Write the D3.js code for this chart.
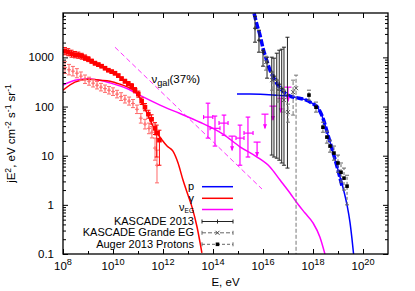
<!DOCTYPE html>
<html><head><meta charset="utf-8">
<script src="https://cdn.jsdelivr.net/npm/d3@7"></script>
<style>body{margin:0;background:#fff} text{font-family:"Liberation Sans",Arial,sans-serif;fill:#000}</style>
</head><body><svg id="c" width="415" height="291"></svg>
<script>
// ---------- data ----------
const xTickExp = [8,10,12,14,16,18,20];
const yTickLabels = ["0.1","1","10","100","1000"];
const yTickVals = [0.1,1,10,100,1000];

// red squares (total EGB)
const egbE  = [1.2e8,1.62e8,2.2e8,3.0e8,4.1e8,5.6e8,7.6e8,1.03e9,1.4e9,1.9e9,2.6e9,3.5e9,4.8e9,6.5e9,8.9e9,1.2e10,1.63e10,2.2e10,3.0e10,4.1e10,5.6e10,7.6e10,1.03e11,1.4e11,1.9e11,2.6e11,3.5e11,4.8e11,5.6e11,7.2e11];
const egbV  = [1337,1276,1189,1135,1109,1058,986,919,837,762,711,663,603,549,512,477,425,369,328,292,260,215,179,129,97,70,55,36,28.8,20.7];
const egbLo = [1130,1080,1010,980,960,920,870,820,760,700,655,615,560,510,475,440,392,340,300,265,232,190,155,110,82,58,44,27,9.4,6.4];
const egbHi = [1580,1500,1400,1320,1280,1210,1120,1030,920,830,770,715,650,590,552,515,460,400,358,322,292,243,206,150,115,84,68,47,41.9,33];

// light red points (IGRB)
const igrbE  = [1.2e8,1.74e8,2.5e8,3.6e8,5.2e8,7.6e8,1.1e9,1.6e9,2.3e9,3.3e9,4.8e9,6.9e9,1.0e10,1.45e10,2.1e10,3.0e10,4.4e10,6.3e10,9.1e10,1.3e11,1.9e11,2.75e11,3.6e11,4.8e11,5.75e11];
const igrbV  = [620,560,524,477,415,360,328,299,272,248,231,215,201,179,159,141,129,115,88,58,44,36,30,14.3,6.4];
const igrbLo = [470,440,420,385,340,295,272,250,228,208,194,180,168,150,133,118,107,95,72,46,35,28,23,8.1,2.8];
const igrbHi = [820,720,655,590,505,438,395,358,324,296,274,255,240,214,191,169,156,139,107,72,55,46,39,22.8,13];

// gamma model curve
const gamE = [1e8,3e8,1e9,3e9,7.6e9,1.9e10,4.8e10,9.1e10,1.45e11,2.3e11,3.6e11,5.75e11,9.1e11,1.45e12,2.5e12,4e12,6.3e12,1e13,1.45e13,2.3e13,3.6e13];
const gamV = [215,313,360,344,328,285,236,187,123,73,44,29,21,15.7,12.4,7.1,3.2,1.58,0.9,0.354,0.105];

// nu_EG model curve
const nuE = [1e8,3e8,1e9,3e9,7.6e9,3.6e10,1.6e11,7.6e11,4.8e12,3e13,1e14,2.5e14,1.2e15,5.8e15,1.9e16,4.8e16,1.2e17,2.3e17,4.8e17,1e18,1.9e18,3e18];
const nuV = [272,344,369,344,303,233,157,107,72,48,36,27.5,15.2,9.4,5.9,3.2,1.74,1.09,0.68,0.43,0.22,0.1];

// nu_gal (37%) power law
const galE = [1.2e10,9.1e15];
const galV = [1610,2.1];

// proton model curve
const pE = [9.1e14,3e15,1.2e16,4.8e16,1.9e17,4.8e17,9.1e17,1.6e18,2.5e18,4e18,6.3e18,1e19,1.6e19,2.3e19,3e19,3.6e19,4.2e19];
const pV = [179,179,175,167,155,138,117,93,58,26,11.8,5.1,2.2,0.99,0.45,0.21,0.1];

// thick dashed blue (proton data fit)
const pfE = [4.4e15,5.8e15,7.6e15,1e16,1.32e16,1.9e16,3e16,4.8e16,7.6e16,1.2e17,2.1e17,4.8e17,9.1e17,1.6e18,2.5e18,4e18,6.3e18,1e19,1.45e19];
const pfV = [7900,4510,2820,1540,964,550,344,237,187,163,152,138,117,93,58,26,11.8,5.1,2.4];

// IceCube neutrinos
const icE  = [6.3e13,1.2e14,2.75e14,1.2e15,2.5e15];
const icV  = [61,36,46,22.8,28.8];
const icLo = [22.8,15.7,26,6.4,9.4];
const icHi = [117,64,67,41.9,61];
const icXlo = [4.2e13,7.6e13,1.74e14,8.3e14,1.74e15];
const icXhi = [9.8e13,1.9e14,4.0e14,1.74e15,4.0e15];
// IceCube upper limits
const icUlE = [5.8e14,5.8e15,1.2e16,2.5e16,5.2e16,1e17];
const icUlV = [25,18.9,70,102,148,248];

// KASCADE 2013
const kasE  = [4.8e15,6.9e15,1e16,1.45e16,2.24e16,2.75e16,3.55e16,4.47e16,5.6e16,6.9e16,9.5e16];
const kasV  = [3917,2238,1276,798,500,415,344,285,236,205,171];
const kasLo = [2037,1276,663,378,10.3,9.4,8.9,8.1,7.1,6.4,5.6];
const kasHi = [6870,3573,1400,1010,1010,964,1217,1400,1468,1612,2570];

// KASCADE Grande EG
const kgE  = [1.32e16,2.3e16,4e16,6.9e16,1e17,1.6e17,2.1e17];
const kgV  = [798,344,215,135,77,196,236];
const kgLo = [550,215,123,77,48,67,0.05];
const kgHi = [1057,500,344,215,112,344,435];

// Auger 2013 protons
const augE  = [6.9e17,1.32e18,2.5e18,3.6e18,4.8e18,6.9e18,1e19,1.32e19,1.74e19,2.3e19];
const augV  = [171,97,38,23.9,15.7,11.3,7.1,4.6,3.5,2.4];
const augLo = [135,77,30,18,11.8,8.1,4.6,2.9,2.0,1.0];
const augHi = [215,123,48,31.6,20.7,15.7,10.3,7.1,5.6,4.0];

// ---------- layout ----------
const svg = d3.select("#c");
const L=63, R=388, T=13, B=254;
const x = d3.scaleLog().domain([1e8,1e21]).range([L,R]);
const y = d3.scaleLog().domain([0.1,8000]).range([B,T]);
const FS = 11.5, LFS = 11;

svg.append("defs").append("clipPath").attr("id","clip")
  .append("rect").attr("x",L).attr("y",T).attr("width",R-L).attr("height",B-T);
const plot = svg.append("g").attr("clip-path","url(#clip)");

// axes
const xMaj = xTickExp.map(e=>Math.pow(10,e));
const xMin = [9,11,13,15,17,19].map(e=>Math.pow(10,e));
const yMin = [];
[-1,0,1,2,3].forEach(d=>{for(let k=2;k<=9;k++){const v=k*Math.pow(10,d); if(v<8000) yMin.push(v);}});

function ax(gen, pos, vals, size){
  const g = svg.append("g").attr("transform",pos)
    .call(gen.tickValues(vals).tickSize(size).tickFormat(""));
  g.select(".domain").remove();
  g.selectAll("line").attr("stroke","#000").attr("stroke-width",1);
  return g;
}
ax(d3.axisBottom(x), `translate(0,${B})`, xMaj, -5);
ax(d3.axisBottom(x), `translate(0,${B})`, xMin, -3);
ax(d3.axisTop(x), `translate(0,${T})`, xMaj, -5);
ax(d3.axisTop(x), `translate(0,${T})`, xMin, -3);
ax(d3.axisLeft(y), `translate(${L},0)`, yTickVals, -5);
ax(d3.axisLeft(y), `translate(${L},0)`, yMin, -3);
ax(d3.axisRight(y), `translate(${R},0)`, yTickVals, -5);
ax(d3.axisRight(y), `translate(${R},0)`, yMin, -3);

svg.append("rect").attr("x",L).attr("y",T).attr("width",R-L).attr("height",B-T)
  .attr("fill","none").attr("stroke","#000").attr("stroke-width",1.3);

// tick labels
xTickExp.forEach(e=>{
  const t = svg.append("text").attr("x",x(Math.pow(10,e))).attr("y",B+16)
    .attr("text-anchor","middle").attr("font-size",FS);
  t.append("tspan").text("10");
  t.append("tspan").attr("dy",-5).attr("font-size",FS*0.8).text(e);
});
yTickVals.forEach((v,i)=>{
  svg.append("text").attr("x",L-9).attr("y",y(v)).attr("dy","0.35em")
    .attr("text-anchor","end").attr("font-size",FS).text(yTickLabels[i]);
});

// axis titles
svg.append("text").attr("x",(L+R)/2).attr("y",286).attr("text-anchor","middle")
  .attr("font-size",FS).text("E, eV");
const yl = svg.append("text").attr("transform",`translate(15,${(T+B)/2}) rotate(-90)`)
  .attr("text-anchor","middle").attr("font-size",FS);
yl.append("tspan").text("jE");
yl.append("tspan").attr("dy",-4).attr("font-size",FS*0.75).text("2");
yl.append("tspan").attr("dy",4).text(", eV cm");
yl.append("tspan").attr("dy",-4).attr("font-size",FS*0.75).text("-2");
yl.append("tspan").attr("dy",4).text(" s");
yl.append("tspan").attr("dy",-4).attr("font-size",FS*0.75).text("-1");
yl.append("tspan").attr("dy",4).text(" sr");
yl.append("tspan").attr("dy",-4).attr("font-size",FS*0.75).text("-1");

// ---------- helpers ----------
const line = d3.line().x(d=>x(d[0])).y(d=>y(d[1])).curve(d3.curveMonotoneX);
function curve(E,V,color,w,dash){
  plot.append("path").datum(E.map((e,i)=>[e,V[i]])).attr("d",line)
    .attr("fill","none").attr("stroke",color).attr("stroke-width",w)
    .attr("stroke-dasharray",dash||null);
}
function vbars(g,E,V,Lo,Hi,color,w,cap,dash){
  E.forEach((e,i)=>{
    const cx=x(e), yl=y(Math.max(Lo[i],0.01)), yh=y(Hi[i]);
    g.append("line").attr("x1",cx).attr("x2",cx).attr("y1",yl).attr("y2",yh)
      .attr("stroke",color).attr("stroke-width",w).attr("stroke-dasharray",dash||null);
    [yl,yh].forEach(yy=>g.append("line").attr("x1",cx-cap).attr("x2",cx+cap).attr("y1",yy).attr("y2",yy)
      .attr("stroke",color).attr("stroke-width",w));
  });
}
function plus(g,cx,cy,s,color){
  g.append("path").attr("d",`M${cx-s},${cy}H${cx+s}M${cx},${cy-s}V${cy+s}`).attr("stroke",color).attr("stroke-width",1);
}
function cross(g,cx,cy,s,color){
  g.append("path").attr("d",`M${cx-s},${cy-s}L${cx+s},${cy+s}M${cx-s},${cy+s}L${cx+s},${cy-s}`).attr("stroke",color).attr("stroke-width",1);
}

// ---------- curves ----------
curve(galE,galV,"#ff33ff",1,"5,3");
curve(nuE,nuV,"#ff00ff",1.5);
curve(gamE,gamV,"#ff0000",1.5);
curve(pE,pV,"#0000ff",1.5);
curve(pfE,pfV,"#0000ff",3.5,"7,2");

// ---------- data points ----------
vbars(plot,igrbE,igrbV,igrbLo,igrbHi,"#ff6a6a",1,2);
igrbE.forEach((e,i)=>plus(plot,x(e),y(igrbV[i]),2,"#ff6a6a"));
vbars(plot,egbE,egbV,egbLo,egbHi,"#ff0000",1,2);
plot.selectAll(null).data(egbE).enter().append("rect")
  .attr("x",d=>x(d)-2.3).attr("y",(d,i)=>y(egbV[i])-2.3).attr("width",4.6).attr("height",4.6)
  .attr("fill","#ff0000");

const ic = plot.append("g");
vbars(ic,icE,icV,icLo,icHi,"#ff00ff",1.2,2.3);
icE.forEach((e,i)=>{
  const cy=y(icV[i]);
  ic.append("line").attr("x1",x(icXlo[i])).attr("x2",x(icXhi[i])).attr("y1",cy).attr("y2",cy)
    .attr("stroke","#ff00ff").attr("stroke-width",1.2);
  [icXlo[i],icXhi[i]].forEach(xe=>ic.append("line").attr("x1",x(xe)).attr("x2",x(xe)).attr("y1",cy-2).attr("y2",cy+2)
    .attr("stroke","#ff00ff").attr("stroke-width",1.2));
});
icUlE.forEach((e,i)=>{
  const cx=x(e), cy=y(icUlV[i]);
  ic.append("line").attr("x1",cx-3.5).attr("x2",cx+3.5).attr("y1",cy).attr("y2",cy).attr("stroke","#ff00ff").attr("stroke-width",1.2);
  ic.append("line").attr("x1",cx).attr("x2",cx).attr("y1",cy).attr("y2",cy+14).attr("stroke","#ff00ff").attr("stroke-width",1.2);
  ic.append("path").attr("d",`M${cx-2},${cy+10}L${cx},${cy+15}L${cx+2},${cy+10}Z`).attr("fill","#ff00ff");
});

const kg = plot.append("g");
vbars(kg,kasE,kasV,kasLo,kasHi,"#222",1,2);
kasE.forEach((e,i)=>plus(kg,x(e),y(kasV[i]),2,"#222"));
vbars(kg,kgE,kgV,kgLo,kgHi,"#777",1,2,"4,2");
kgE.forEach((e,i)=>cross(kg,x(e),y(kgV[i]),2,"#555"));
vbars(kg,augE,augV,augLo,augHi,"#666",1,2,"3,2");
kg.selectAll(null).data(augE).enter().append("rect")
  .attr("x",d=>x(d)-1.8).attr("y",(d,i)=>y(augV[i])-1.8).attr("width",3.6).attr("height",3.6).attr("fill","#000");

// annotation
const an = svg.append("text").attr("x",151.5).attr("y",82.5).attr("font-size",FS);
an.append("tspan").text("ν");
an.append("tspan").attr("dy",3).attr("font-size",FS*0.8).text("gal");
an.append("tspan").attr("dy",-3).text("(37%)");

// ---------- legend ----------
const legY = [186.7,198.3,209.5,221.5,232.8,244.3];
const lx0=202, lx1=233, ltx=194;
const lg = svg.append("g");
function ltext(i,main,sub){
  const t = lg.append("text").attr("x",ltx).attr("y",legY[i]+(sub?-1.5:0)).attr("dy","0.3em").attr("text-anchor","end").attr("font-size",LFS);
  t.append("tspan").text(main);
  if(sub){ t.append("tspan").attr("dy",1.5).attr("font-size",6.5).text(sub); }
}
ltext(0,"p"); ltext(1,"γ"); ltext(2,"ν","EG");
ltext(3,"KASCADE 2013"); ltext(4,"KASCADE Grande EG"); ltext(5,"Auger 2013 Protons");
[["#0000ff"],["#ff0000"],["#ff00ff"]].forEach((c,i)=>{
  lg.append("line").attr("x1",lx0).attr("x2",lx1).attr("y1",legY[i]).attr("y2",legY[i]).attr("stroke",c[0]).attr("stroke-width",1.5);
});
[["#222",null,"plus"],["#666","4,2","cross"],["#666","3,2","sq"]].forEach((c,j)=>{
  const i=j+3, yy=legY[i], mid=(lx0+lx1)/2;
  lg.append("line").attr("x1",lx0).attr("x2",lx1).attr("y1",yy).attr("y2",yy).attr("stroke",c[0]).attr("stroke-width",1).attr("stroke-dasharray",c[1]);
  [lx0,lx1].forEach(xx=>lg.append("line").attr("x1",xx).attr("x2",xx).attr("y1",yy-2).attr("y2",yy+2).attr("stroke",c[0]).attr("stroke-width",1));
  if(c[2]==="plus") plus(lg,mid,yy,2,"#222");
  else if(c[2]==="cross") cross(lg,mid,yy,2,"#444");
  else lg.append("rect").attr("x",mid-1.8).attr("y",yy-1.8).attr("width",3.6).attr("height",3.6).attr("fill","#000");
});
</script>
</body></html>
